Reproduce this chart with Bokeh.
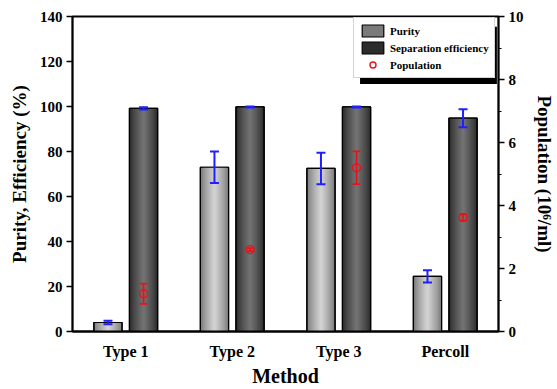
from bokeh.plotting import figure
from bokeh.models import (ColumnDataSource, Range1d, LinearAxis, Whisker, TeeHead,
                          Legend, LegendItem, BoxAnnotation, FixedTicker)
from bokeh.transform import dodge
from bokeh.embed import file_html
from bokeh.resources import INLINE

methods = ["Type 1", "Type 2", "Type 3", "Percoll"]
purity = [4.0, 73.0, 72.5, 24.5]
purity_err = [0.8, 7.0, 7.0, 2.7]
efficiency = [99.2, 99.8, 99.8, 94.8]
efficiency_err = [0.5, 0.2, 0.2, 4.0]
population = [1.2, 2.6, 5.2, 3.62]
population_err = [0.32, 0.05, 0.52, 0.1]

FONT = "Liberation Serif"

src = ColumnDataSource(dict(
    method=methods, purity=purity, efficiency=efficiency, population=population,
    p_lo=[v - e for v, e in zip(purity, purity_err)],
    p_hi=[v + e for v, e in zip(purity, purity_err)],
    e_lo=[v - e for v, e in zip(efficiency, efficiency_err)],
    e_hi=[v + e for v, e in zip(efficiency, efficiency_err)],
    n_lo=[v - e for v, e in zip(population, population_err)],
    n_hi=[v + e for v, e in zip(population, population_err)],
))

p = figure(x_range=methods, y_range=Range1d(0, 140), width=557, height=389,
           output_backend="svg", toolbar_location=None,
           min_border_left=72, min_border_right=55, min_border_top=16, min_border_bottom=58)
p.x_range.range_padding = 0
p.extra_y_ranges = {"pop": Range1d(0, 10)}
p.grid.visible = False
p.outline_line_color = "black"
p.outline_line_width = 1.8

W = 0.265
OFF = 0.167


def interp(c1, c2, t):
    return "#%02x%02x%02x" % tuple(int(round(a + (b - a) * t)) for a, b in zip(c1, c2))


def gradient_bars(field, off, edge, center):
    N = 12
    first = None
    for i in range(N):
        t = i / (N - 1)
        w = W * (1 - 0.92 * t)
        col = interp(edge, center, t ** 0.8)
        r = p.vbar(x=dodge("method", off, range=p.x_range), top=field, width=w, source=src,
                   fill_color=col, line_color=("black" if i == 0 else None),
                   line_width=1.2)
        if first is None:
            first = r
    p.vbar(x=dodge("method", off, range=p.x_range), top=field, width=W, source=src,
           fill_color=None, line_color="black", line_width=1.2)
    return first


r_pur = gradient_bars("purity", -OFF, (0x7a, 0x7a, 0x7a), (0xd2, 0xd2, 0xd2))
r_eff = gradient_bars("efficiency", OFF, (0x2c, 0x2c, 0x2c), (0x72, 0x72, 0x72))

blue = "#1f1fff"
red = "#e8141c"

for lo, hi, off in (("p_lo", "p_hi", -OFF), ("e_lo", "e_hi", OFF)):
    wk = Whisker(base=dodge("method", off, range=p.x_range), lower=lo, upper=hi, source=src,
                 line_color=blue, line_width=2, level="annotation",
                 upper_head=TeeHead(size=9, line_color=blue, line_width=2),
                 lower_head=TeeHead(size=9, line_color=blue, line_width=2))
    p.add_layout(wk)

wk = Whisker(base=dodge("method", OFF, range=p.x_range), lower="n_lo", upper="n_hi", source=src,
             y_range_name="pop", line_color=red, line_width=1.8, level="annotation",
             upper_head=TeeHead(size=8, line_color=red, line_width=1.8),
             lower_head=TeeHead(size=8, line_color=red, line_width=1.8))
p.add_layout(wk)
r_pop = p.scatter(x=dodge("method", OFF, range=p.x_range), y="population", source=src,
                  y_range_name="pop", marker="circle", size=8, fill_color=None,
                  line_color=red, line_width=1.4, level="overlay")

# axes
common = dict(major_label_text_font=FONT, major_label_text_font_style="bold",
              major_label_text_font_size="15px", major_label_text_color="black",
              axis_label_text_font=FONT, axis_label_text_font_style="bold",
              axis_label_text_font_size="19px", axis_label_text_color="black",
              axis_line_width=1.8, axis_line_color="black",
              major_tick_line_width=1.3, major_tick_in=0, major_tick_out=6,
              minor_tick_in=0, minor_tick_out=3, major_label_standoff=4,
              axis_label_standoff=7)

for k, v in common.items():
    setattr(p.yaxis[0], k, v)
    setattr(p.xaxis[0], k, v)
p.yaxis.ticker = FixedTicker(ticks=list(range(0, 141, 20)))
p.yaxis.axis_label = "Purity, Efficiency (%)"
p.yaxis.minor_tick_line_color = None
p.xaxis.axis_label = "Method"
p.xaxis.axis_label_text_font_size = "20px"
p.xaxis.major_tick_line_color = None
p.xaxis.major_label_text_font_size = "16px"
p.xaxis.major_label_standoff = 5
p.xaxis.axis_label_standoff = 2

ra = LinearAxis(y_range_name="pop", axis_label="Population (10\u2076/ml)",
                ticker=FixedTicker(ticks=list(range(0, 11, 2)), minor_ticks=list(range(1, 10, 2))))
for k, v in common.items():
    setattr(ra, k, v)
p.add_layout(ra, "right")

# legend shadow (synthetic categorical x units, left-axis y units)
shadow = BoxAnnotation(left=2.7, right=3.985, top=135.5, bottom=110.0,
                       fill_color="black", fill_alpha=1, line_color=None, level="annotation")
p.add_layout(shadow)

legend = Legend(items=[LegendItem(label="Purity", renderers=[r_pur]),
                       LegendItem(label="Separation efficiency", renderers=[r_eff]),
                       LegendItem(label="Population", renderers=[r_pop])],
                location=(281, 253), label_text_font=FONT, label_text_font_style="bold",
                label_text_font_size="11px", label_text_color="black",
                glyph_width=27, glyph_height=15, label_height=15, spacing=2,
                padding=5, margin=0, label_standoff=4,
                border_line_color="#aaaaaa", border_line_width=1,
                background_fill_color="white", background_fill_alpha=1)
p.add_layout(legend, "center")

open("out.html", "w").write(file_html(p, INLINE))
